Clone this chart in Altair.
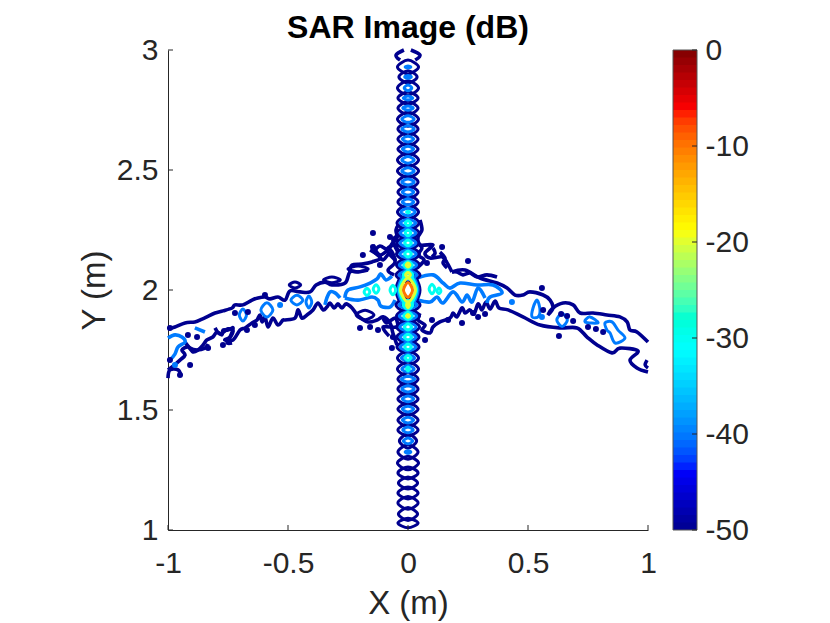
import numpy as np
import pandas as pd
import altair as alt

# Ticks
x_ticks = [-1, -0.5, 0, 0.5, 1]
y_ticks = [1, 1.5, 2, 2.5, 3]
cb_ticks = [-50, -40, -30, -20, -10, 0]

# Centre column: closed contours, read lobe by lobe (centre y, half width, half height)
navy_y = [2.929, 2.888, 2.842, 2.8, 2.758, 2.712, 2.671, 2.629, 2.587, 2.542, 2.496, 2.45, 2.408, 2.367,
          2.325, 2.279, 2.238, 2.196, 2.15, 2.104, 2.063, 2.0, 1.938, 1.892, 1.846, 1.804, 1.763, 1.717,
          1.671, 1.629, 1.588, 1.546, 1.504, 1.458, 1.417, 1.371, 1.325, 1.279, 1.238, 1.196, 1.154,
          1.113, 1.067, 1.029]
navy_w = [0.044, 0.038, 0.044, 0.042, 0.042, 0.044, 0.042, 0.042, 0.042, 0.044, 0.044, 0.042, 0.042, 0.042,
          0.044, 0.046, 0.046, 0.046, 0.048, 0.048, 0.05, 0.05, 0.05, 0.048, 0.048, 0.046, 0.046, 0.044,
          0.044, 0.042, 0.042, 0.042, 0.042, 0.042, 0.042, 0.036, 0.042, 0.044, 0.042, 0.04, 0.042,
          0.042, 0.04, 0.042]
navy_h = [0.029, 0.026, 0.03, 0.026, 0.028, 0.03, 0.028, 0.028, 0.026, 0.03, 0.028, 0.028, 0.028, 0.028,
          0.03, 0.03, 0.028, 0.028, 0.03, 0.03, 0.03, 0.09, 0.032, 0.03, 0.028, 0.028, 0.028, 0.03,
          0.03, 0.028, 0.028, 0.026, 0.026, 0.028, 0.026, 0.03, 0.03, 0.028, 0.025, 0.025, 0.025,
          0.027, 0.027, 0.02]

blue_y = navy_y[:37]
blue_w = [0.012, 0.014, 0.016, 0.02, 0.022, 0.026, 0.026, 0.024, 0.024, 0.026, 0.026, 0.026, 0.024, 0.024,
          0.03, 0.032, 0.032, 0.033, 0.034, 0.036, 0.036, 0.042, 0.036, 0.036, 0.034, 0.033, 0.032, 0.028,
          0.026, 0.028, 0.026, 0.024, 0.024, 0.024, 0.022, 0.02, 0.012]
blue_h = [0.004, 0.006, 0.012, 0.008, 0.009, 0.014, 0.013, 0.012, 0.012, 0.014, 0.013, 0.013, 0.013, 0.013,
          0.016, 0.016, 0.018, 0.018, 0.018, 0.018, 0.018, 0.08, 0.018, 0.018, 0.018, 0.018, 0.018, 0.014,
          0.014, 0.012, 0.013, 0.012, 0.012, 0.012, 0.012, 0.012, 0.005]

cyan_y = [2.325, 2.279, 2.238, 2.196, 2.15, 2.104, 2.063, 2.0, 1.938, 1.892, 1.846, 1.804, 1.763, 1.717, 1.671,
          1.992, 2.004, 2.0, 2.004, 1.996]
cyan_x = [0, 0, 0, 0, 0, 0, 0, 0, 0, 0, 0, 0, 0, 0, 0, -0.171, -0.133, -0.063, 0.1, 0.129]
cyan_w = [0.006, 0.012, 0.012, 0.014, 0.014, 0.018, 0.02, 0.036, 0.02, 0.018, 0.015, 0.015, 0.014, 0.012, 0.006,
          0.012, 0.012, 0.012, 0.012, 0.008]
cyan_h = [0.004, 0.01, 0.012, 0.012, 0.013, 0.015, 0.016, 0.07, 0.018, 0.015, 0.013, 0.012, 0.012, 0.01, 0.008,
          0.015, 0.018, 0.02, 0.02, 0.012]

yellow_y = [2.104, 2.063, 2.0, 1.938, 1.892]
yellow_w = [0.008, 0.01, 0.031, 0.006, 0.006]
yellow_h = [0.008, 0.01, 0.05, 0.012, 0.006]

orange_y = [2.0]
orange_w = [0.019]
orange_h = [0.031]

# Small closed contours in the wings (x, y, half width, half height, level)
loop_x = [-0.471, -0.317, -0.208, -0.179, -0.688, -0.588, -0.463, -0.413, 0.642]
loop_y = [2.021, 2.042, 2.088, 1.896, 1.896, 1.917, 1.958, 1.95, 1.875]
loop_w = [0.024, 0.035, 0.042, 0.037, 0.015, 0.025, 0.025, 0.012, 0.022]
loop_h = [0.0125, 0.012, 0.012, 0.02, 0.025, 0.03, 0.02, 0.025, 0.027]
loop_level = [-50, -50, -50, -50, -40, -40, -40, -40, -40]

# Open contours, navy (-50 dB)
left_upper_x = [-1.0, -0.971, -0.929, -0.888, -0.858, -0.838, -0.804, -0.771, -0.733, -0.721, -0.688, -0.65, -0.625,
                -0.596, -0.575, -0.542, -0.512, -0.492, -0.45, -0.408, -0.383, -0.346, -0.317, -0.262, -0.242,
                -0.208, -0.167]
left_upper_y = [1.838, 1.846, 1.863, 1.867, 1.879, 1.888, 1.904, 1.913, 1.925, 1.938, 1.938, 1.958, 1.967,
                1.971, 1.963, 1.971, 1.958, 1.996, 1.992, 1.992, 2.021, 2.033, 2.021, 2.029, 2.075,
                2.075, 2.083]
left_lower_x = [-1.0, -0.979, -0.95, -0.929, -0.942, -0.917, -0.896, -0.875, -0.854, -0.838, -0.813, -0.796, -0.775,
                -0.771, -0.75, -0.729, -0.742, -0.763, -0.729, -0.7, -0.679, -0.65, -0.629, -0.617, -0.608, -0.596,
                -0.583, -0.563, -0.542, -0.521, -0.512, -0.471, -0.458, -0.442, -0.421, -0.396, -0.375, -0.354,
                -0.338, -0.325, -0.308, -0.292, -0.275, -0.258, -0.233,
                -0.208, -0.167, -0.129, -0.104, -0.075, -0.063, -0.046]
left_lower_y = [1.667, 1.683, 1.708, 1.729, 1.75, 1.763, 1.742, 1.75, 1.771, 1.792, 1.804, 1.825, 1.813,
                1.833, 1.833, 1.842, 1.804, 1.792, 1.792, 1.833, 1.842, 1.863, 1.875, 1.896, 1.867, 1.888,
                1.846, 1.883, 1.854, 1.875, 1.875, 1.883, 1.917, 1.883, 1.896, 1.917, 1.946, 1.917,
                1.929, 1.946, 1.925, 1.942, 1.925, 1.942, 1.925,
                1.892, 1.867, 1.875, 1.888, 1.863, 1.821, 1.771]
left_end_x = [-1.0, -0.992, -0.958, -0.946]
left_end_y = [1.633, 1.667, 1.667, 1.642]
left_mid_x = [-0.929, -0.908, -0.879, -0.846, -0.833]
left_mid_y = [1.783, 1.758, 1.75, 1.758, 1.775]
left_knot_x = [-0.804, -0.783, -0.75, -0.729, -0.742, -0.754, -0.733]
left_knot_y = [1.842, 1.817, 1.838, 1.829, 1.8, 1.779, 1.779]
fringe_a_x = [-0.242, -0.233, -0.192, -0.15, -0.113, -0.138, -0.117, -0.083, -0.067, -0.046, -0.05, -0.038]
fringe_a_y = [2.075, 2.104, 2.108, 2.117, 2.133, 2.158, 2.183, 2.167, 2.192, 2.217, 2.25, 2.275]
fringe_b_x = [-0.146, -0.117, -0.075, -0.054, -0.083, -0.058]
fringe_b_y = [2.188, 2.146, 2.167, 2.117, 2.083, 2.063]
fringe_e_x = [-0.158, -0.125, -0.104, -0.075, -0.054, -0.088, -0.054, -0.042, -0.063, -0.033]
fringe_e_y = [2.167, 2.146, 2.125, 2.154, 2.125, 2.167, 2.188, 2.158, 2.208, 2.229]
fringe_f_x = [-0.104, -0.088, -0.054, -0.046, -0.104, -0.079]
fringe_f_y = [1.883, 1.863, 1.883, 1.846, 1.846, 1.808]
right_upper_x = [0.183, 0.238, 0.3, 0.371, 0.413, 0.446, 0.479, 0.508, 0.563, 0.592, 0.604, 0.583, 0.604, 0.646,
                 0.688, 0.717, 0.771, 0.829, 0.883, 0.913, 0.925, 0.954, 1.0]
right_upper_y = [2.075, 2.083, 2.05, 2.029, 2.008, 1.979, 1.979, 1.992, 1.979, 1.958, 1.925, 1.896, 1.925, 1.946,
                 1.938, 1.904, 1.904, 1.896, 1.888, 1.867, 1.833, 1.825, 1.783]
right_chain_x = [0.183, 0.204, 0.229, 0.258, 0.288, 0.329, 0.371]
right_chain_y = [2.075, 2.075, 2.063, 2.071, 2.054, 2.063, 2.054]
right_lower_x = [0.05, 0.042, 0.071, 0.058, 0.092, 0.104, 0.133, 0.175, 0.188, 0.204, 0.225, 0.238, 0.258, 0.275,
                 0.292, 0.308, 0.325, 0.342, 0.363, 0.379, 0.417, 0.479,
                 0.55, 0.633, 0.704, 0.746, 0.788, 0.85, 0.883, 0.958, 0.925, 0.954, 1.0]
right_lower_y = [1.904, 1.875, 1.854, 1.833, 1.821, 1.846, 1.867, 1.883, 1.904, 1.888, 1.925, 1.904, 1.917, 1.9,
                 1.942, 1.917, 1.95, 1.921, 1.954, 1.925, 1.917, 1.888,
                 1.854, 1.842, 1.842, 1.804, 1.771, 1.738, 1.758, 1.746, 1.708, 1.675, 1.658]
right_end_x = [0.996, 0.988, 1.0]
right_end_y = [1.708, 1.688, 1.675]
fringe_c_x = [0.05, 0.058, 0.042, 0.05, 0.104, 0.071, 0.092, 0.142, 0.163, 0.183]
fringe_c_y = [2.292, 2.25, 2.221, 2.188, 2.188, 2.154, 2.133, 2.138, 2.113, 2.075]
fringe_d_x = [0.038, 0.058, 0.042, 0.067, 0.038]
fringe_d_y = [2.196, 2.175, 2.146, 2.125, 2.092]
fringe_g_x = [0.104, 0.113, 0.1]
fringe_g_y = [2.175, 2.154, 2.138]
fringe_h_x = [0.133, 0.154, 0.146, 0.163]
fringe_h_y = [2.158, 2.133, 2.113, 2.092]
top_left_x = [-0.017, -0.05, -0.033]
top_left_y = [3.0, 2.979, 2.958]
top_right_x = [0.012, 0.05, 0.03]
top_right_y = [3.0, 2.979, 2.958]

# Open contours, blue (-40 dB)
blue_left_a_x = [-0.263, -0.25, -0.2, -0.158, -0.129, -0.113, -0.092, -0.067]
blue_left_a_y = [1.967, 2.0, 2.013, 2.029, 2.046, 2.067, 2.042, 2.058]
blue_left_b_x = [-0.263, -0.208, -0.15, -0.125, -0.113, -0.075, -0.054]
blue_left_b_y = [1.967, 1.958, 1.971, 1.958, 1.933, 1.929, 1.958]
blue_end_x = [-1.0, -0.971, -0.942, -0.929, -0.958, -0.971, -0.992]
blue_end_y = [1.8, 1.813, 1.804, 1.783, 1.763, 1.733, 1.708]
blue_streak_x = [-0.888, -0.846]
blue_streak_y = [1.842, 1.825]
blue_hook_x = [-0.346, -0.338, -0.325, -0.304, -0.283]
blue_hook_y = [1.938, 1.967, 1.992, 1.988, 1.967]
blue_right_a_x = [0.038, 0.104, 0.146, 0.175, 0.217, 0.288, 0.354, 0.392, 0.342, 0.329]
blue_right_a_y = [2.05, 2.063, 2.029, 2.008, 2.029, 2.021, 2.021, 1.988, 1.971, 1.946]
blue_right_b_x = [0.038, 0.092, 0.121, 0.146, 0.188, 0.225, 0.246, 0.267, 0.292, 0.321]
blue_right_b_y = [1.958, 1.95, 1.971, 1.946, 1.992, 1.95, 1.979, 1.95, 2.008, 1.967]

# Closed irregular blue contours on the right wing
shape_a_x = [0.538, 0.55, 0.542, 0.517, 0.521]
shape_a_y = [1.958, 1.917, 1.888, 1.888, 1.925]
shape_b_x = [0.738, 0.758, 0.792]
shape_b_y = [1.867, 1.888, 1.863]
shape_c_x = [0.821, 0.85, 0.875, 0.904, 0.863, 0.842, 0.829]
shape_c_y = [1.863, 1.867, 1.833, 1.8, 1.779, 1.821, 1.833]

# Specks
navy_dot_x = [-0.917, -0.879, -0.833, -0.771, -0.908, -0.95, -0.992, -0.992, -0.188, -0.117, -0.146, -0.075, -0.146,
              -0.2, -0.158, -0.125, -0.063, -0.067, -0.596, -0.721, -0.667, -0.638, -0.671,
              0.071, 0.1, 0.25, 0.142, 0.079, 0.225, 0.167, 0.271, 0.292, 0.321, 0.558, 0.629, 0.75, 0.783, 0.813,
              0.688, 0.638, 0.663, 0.563]
navy_dot_y = [1.813, 1.804, 1.758, 1.771, 1.688, 1.646, 1.842, 1.708, 2.146, 2.104, 2.179, 2.221, 2.238,
              1.842, 1.846, 1.833, 1.804, 1.758, 1.979, 1.904, 1.908, 1.854, 1.833,
              1.792, 1.875, 2.121, 2.179, 2.113, 1.863, 1.875, 1.904, 1.888, 1.9, 2.008, 1.808, 1.846, 1.838, 1.825,
              1.871, 1.9, 1.892, 1.917]
blue_dot_x = [-0.971, -0.533, 0.433, 0.558]
blue_dot_y = [1.688, 1.938, 1.95, 1.888]

open_lines = [
    (-50, left_upper_x, left_upper_y), (-50, left_lower_x, left_lower_y), (-50, left_end_x, left_end_y),
    (-50, left_mid_x, left_mid_y), (-50, left_knot_x, left_knot_y), (-50, fringe_a_x, fringe_a_y),
    (-50, fringe_b_x, fringe_b_y), (-50, fringe_e_x, fringe_e_y), (-50, fringe_f_x, fringe_f_y),
    (-50, right_upper_x, right_upper_y), (-50, right_chain_x, right_chain_y), (-50, right_lower_x, right_lower_y),
    (-50, right_end_x, right_end_y), (-50, fringe_c_x, fringe_c_y), (-50, fringe_d_x, fringe_d_y),
    (-50, fringe_g_x, fringe_g_y), (-50, fringe_h_x, fringe_h_y),
    (-50, top_left_x, top_left_y), (-50, top_right_x, top_right_y),
    (-40, blue_left_a_x, blue_left_a_y), (-40, blue_left_b_x, blue_left_b_y), (-40, blue_end_x, blue_end_y),
    (-40, blue_streak_x, blue_streak_y), (-40, blue_hook_x, blue_hook_y),
    (-40, blue_right_a_x, blue_right_a_y), (-40, blue_right_b_x, blue_right_b_y),
]
closed_lines = [(-40, shape_a_x, shape_a_y), (-40, shape_b_x, shape_b_y), (-40, shape_c_x, shape_c_y)]


def ring(level, cx, cy, w, h):
    # eight points round a lobe; the closed cardinal line smooths them
    k = 0.62
    return (level,
            [cx - w, cx - k * w, cx, cx + k * w, cx + w, cx + k * w, cx, cx - k * w],
            [cy, cy + k * h, cy + h, cy + k * h, cy, cy - k * h, cy - h, cy - k * h])


for cx, cy, w, h, lev in zip(loop_x, loop_y, loop_w, loop_h, loop_level):
    closed_lines.append(ring(lev, cx, cy, w, h))
for cy, w, h in zip(navy_y, navy_w, navy_h):
    closed_lines.append(ring(-50, 0, cy, w, h))
for cy, w, h in zip(blue_y, blue_w, blue_h):
    closed_lines.append(ring(-40, 0, cy, w, h))
for cx, cy, w, h in zip(cyan_x, cyan_y, cyan_w, cyan_h):
    closed_lines.append(ring(-30, cx, cy, w, h))
for cy, w, h in zip(yellow_y, yellow_w, yellow_h):
    closed_lines.append(ring(-20, 0, cy, w, h))
for cy, w, h in zip(orange_y, orange_w, orange_h):
    closed_lines.append(ring(-10, 0, cy, w, h))


def to_table(lines):
    rows = []
    for i, (lev, xs, ys) in enumerate(lines):
        for j, (px, py) in enumerate(zip(xs, ys)):
            rows.append({'id': i, 'seq': j, 'level': lev, 'x': px, 'y': py})
    return pd.DataFrame(rows)


open_df = to_table(open_lines)
closed_df = to_table(sorted(closed_lines, key=lambda r: r[0]))
dots_df = pd.DataFrame({'x': navy_dot_x + blue_dot_x, 'y': navy_dot_y + blue_dot_y,
                        'level': [-50] * len(navy_dot_x) + [-40] * len(blue_dot_x)})

FONT = 'Liberation Sans'
INK = '#262626'

jet = alt.Scale(domain=[-50, -43.75, -31.25, -18.75, -6.25, 0],
                range=['#00008f', '#0000ff', '#00ffff', '#ffff00', '#ff0000', '#800000'])
x_scale = alt.Scale(domain=[-1, 1], nice=False)
y_scale = alt.Scale(domain=[1, 3], nice=False)

x_enc = alt.X('x:Q', scale=x_scale, title='X (m)', axis=alt.Axis(
    values=x_ticks, labelExpr='toString(datum.value)', tickSize=0, grid=False, labelFontSize=30, titleFontSize=33,
    labelFont=FONT, titleFont=FONT, titleFontWeight='normal', labelColor=INK, titleColor=INK, domainColor=INK,
    labelPadding=18, titlePadding=9, labelFlush=False))
y_enc = alt.Y('y:Q', scale=y_scale, title='Y (m)', axis=alt.Axis(
    values=y_ticks, labelExpr='toString(datum.value)', tickSize=0, grid=False, labelFontSize=30, titleFontSize=33,
    labelFont=FONT, titleFont=FONT, titleFontWeight='normal', labelColor=INK, titleColor=INK, domainColor=INK,
    labelPadding=10, titlePadding=5))
color_enc = alt.Color('level:Q', scale=jet, legend=None)

open_layer = alt.Chart(open_df).mark_line(interpolate='cardinal', strokeWidth=3.6).encode(
    x=x_enc, y=y_enc, color=color_enc, detail='id:N', order='seq:Q')
closed_layer = alt.Chart(closed_df).mark_line(interpolate='cardinal-closed', strokeWidth=3).encode(
    x=x_enc, y=y_enc, color=color_enc, detail='id:N', order='seq:Q')
dot_layer = alt.Chart(dots_df).mark_circle(size=36, opacity=1).encode(x=x_enc, y=y_enc, color=color_enc)

x_tick_marks = alt.Chart(pd.DataFrame({'x': x_ticks})).mark_rule(color=INK).encode(
    x=x_enc, y=alt.value(480), y2=alt.value(475))
y_tick_marks = alt.Chart(pd.DataFrame({'y': y_ticks})).mark_rule(color=INK).encode(
    y=y_enc, x=alt.value(0), x2=alt.value(5))

main = alt.layer(open_layer, closed_layer, dot_layer, x_tick_marks, y_tick_marks).properties(
    width=480, height=480,
    title=alt.TitleParams('SAR Image (dB)', font=FONT, fontSize=32, fontWeight='bold', color='black', offset=-10))

# Colour bar
cb_edges = np.linspace(-50, 0, 65)
cb_df = pd.DataFrame({'lo': cb_edges[:-1], 'hi': np.minimum(cb_edges[1:] + 0.2, 0),
                      'level': (cb_edges[:-1] + cb_edges[1:]) / 2})
cb_y = alt.Y('lo:Q', scale=alt.Scale(domain=[-50, 0], nice=False), title=None, axis=alt.Axis(
    orient='right', values=cb_ticks, labelExpr='toString(datum.value)', tickSize=0, domain=False, grid=False,
    labelFontSize=30, labelFont=FONT, labelColor=INK, labelPadding=8))
cb_rects = alt.Chart(cb_df).mark_rect().encode(
    x=alt.value(0), x2=alt.value(24), y=cb_y, y2='hi:Q', color=color_enc)
cb_frame = alt.Chart(pd.DataFrame({'lo': [-50], 'hi': [0]})).mark_rect(filled=False, stroke='#555555').encode(
    x=alt.value(0), x2=alt.value(24), y=cb_y, y2='hi:Q')
cb_tick_marks = alt.Chart(pd.DataFrame({'lo': cb_ticks})).mark_rule(color=INK).encode(
    y=cb_y, x=alt.value(19), x2=alt.value(24))
colorbar = alt.layer(cb_rects, cb_frame, cb_tick_marks).properties(width=24, height=480)

chart = alt.hconcat(main, colorbar, spacing=15).resolve_scale(color='shared').configure_view(stroke=None).properties(
    padding={'left': 70, 'top': 4, 'right': 5, 'bottom': 2})

chart.save("out.html", embed_options={"renderer": "svg", "actions": False})
